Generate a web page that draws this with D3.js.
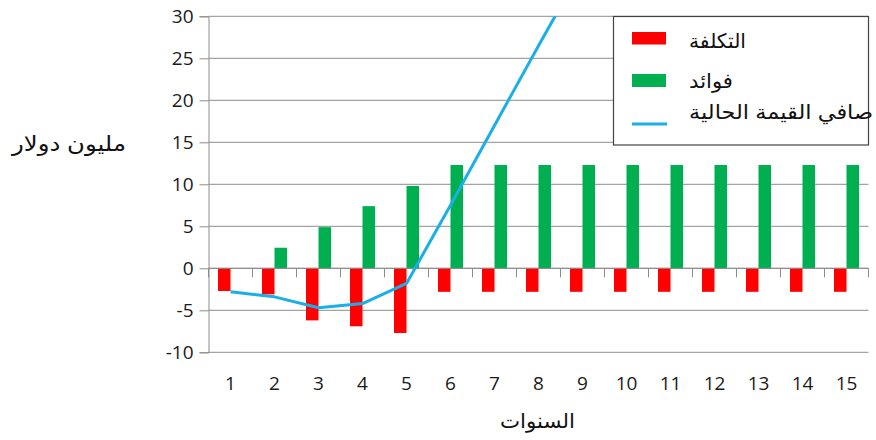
<!DOCTYPE html>
<html>
<head>
<meta charset="utf-8">
<script src="https://cdn.jsdelivr.net/npm/d3@7"></script>
<style>
  html, body { margin: 0; padding: 0; background: #fff; }
  svg { display: block; }
  .ar { font-family: Arial, "DejaVu Sans", sans-serif; }
  .num { font-family: "Open Sans", "Liberation Sans", sans-serif; }
</style>
</head>
<body>
<svg id="chart" width="876" height="440"></svg>
<script>
// Years and yearly cash flows (million dollars)
const years = [1, 2, 3, 4, 5, 6, 7, 8, 9, 10, 11, 12, 13, 14, 15];
const costs = [-2.7, -3.1, -6.2, -6.9, -7.7, -2.8, -2.8, -2.8, -2.8, -2.8, -2.8, -2.8, -2.8, -2.8, -2.8];
const benefits = [0, 2.45, 4.9, 7.4, 9.8, 12.3, 12.3, 12.3, 12.3, 12.3, 12.3, 12.3, 12.3, 12.3, 12.3];
const npv = [-2.8, -3.4, -4.7, -4.2, -1.8, 7.5, 17.0, 26.5, 35.8, 44.6, 53.0, 61.0, 68.8, 76.2, 83.3];
const yTicks = [-10, -5, 0, 5, 10, 15, 20, 25, 30];

const labels = {
  cost: "التكلفة",
  benefit: "فوائد",
  npv: "صافي القيمة الحالية",
  yTitle: "مليون دولار",
  xTitle: "السنوات"
};

const colors = { cost: "#FF0000", benefit: "#00B050", npv: "#1AAFE6", grid: "#8C8C8C" };

const svg = d3.select("#chart");
const plot = { left: 208.5, right: 868.5, top: 16.3, bottom: 352.3 };

const x = d3.scaleBand().domain(years).range([plot.left, plot.right]).padding(0);
const y = d3.scaleLinear().domain([-10, 30]).range([plot.bottom, plot.top]);
const barW = 12.5;

// Horizontal gridlines
svg.append("g")
  .selectAll("line")
  .data(yTicks)
  .join("line")
  .attr("x1", plot.left).attr("x2", plot.right)
  .attr("y1", d => y(d)).attr("y2", d => y(d))
  .attr("stroke", colors.grid).attr("stroke-width", 1);

// Y axis (plain hyphen for negatives)
const yAxis = svg.append("g")
  .attr("transform", `translate(${plot.left},0)`)
  .call(d3.axisLeft(y).tickValues(yTicks).tickSize(9).tickPadding(6).tickFormat(d => String(d)));
yAxis.select(".domain").attr("stroke", colors.grid);
yAxis.selectAll(".tick line").attr("stroke", colors.grid);
yAxis.selectAll("text")
  .attr("class", "num")
  .attr("font-size", 19).attr("fill", "#1a1a1a");

// Bars: costs (left half of band) and benefits (right half)
const center = d => x(d) + x.bandwidth() / 2;
svg.append("g").selectAll("rect")
  .data(years.map((yr, i) => ({ yr, v: costs[i] })))
  .join("rect")
  .attr("x", d => center(d.yr) - barW)
  .attr("width", barW)
  .attr("y", d => y(Math.max(0, d.v)))
  .attr("height", d => Math.abs(y(d.v) - y(0)))
  .attr("fill", colors.cost);

svg.append("g").selectAll("rect")
  .data(years.map((yr, i) => ({ yr, v: benefits[i] })))
  .join("rect")
  .attr("x", d => center(d.yr))
  .attr("width", barW)
  .attr("y", d => y(Math.max(0, d.v)))
  .attr("height", d => Math.abs(y(d.v) - y(0)))
  .attr("fill", colors.benefit);

// X axis along zero with boundary ticks
const boundaries = d3.range(years.length + 1).map(i => plot.left + i * x.bandwidth());
svg.append("line")
  .attr("x1", plot.left).attr("x2", plot.right)
  .attr("y1", y(0)).attr("y2", y(0))
  .attr("stroke", colors.grid);
svg.append("g").selectAll("line")
  .data(boundaries)
  .join("line")
  .attr("x1", d => d).attr("x2", d => d)
  .attr("y1", y(0)).attr("y2", y(0) + 9)
  .attr("stroke", colors.grid);

// Category labels below the plot
svg.append("g").selectAll("text")
  .data(years)
  .join("text")
  .attr("class", "num")
  .attr("x", d => center(d))
  .attr("y", 390)
  .attr("text-anchor", "middle")
  .attr("font-size", 19).attr("fill", "#1a1a1a")
  .text(d => d);

// NPV line, clipped to the plot area
svg.append("clipPath").attr("id", "plotClip")
  .append("rect")
  .attr("x", plot.left).attr("y", plot.top)
  .attr("width", plot.right - plot.left).attr("height", plot.bottom - plot.top);

const line = d3.line().x((d, i) => center(years[i])).y(d => y(d));
svg.append("path")
  .datum(npv)
  .attr("clip-path", "url(#plotClip)")
  .attr("fill", "none")
  .attr("stroke", colors.npv)
  .attr("stroke-width", 3)
  .attr("stroke-linejoin", "round")
  .attr("d", line);

// Legend
const lg = svg.append("g");
lg.append("rect")
  .attr("x", 613.5).attr("y", 16.5).attr("width", 255).attr("height", 128.5)
  .attr("fill", "#fff").attr("stroke", "#444").attr("stroke-width", 1.2);
lg.append("rect").attr("x", 632).attr("y", 32).attr("width", 34).attr("height", 12.5).attr("fill", colors.cost);
lg.append("rect").attr("x", 632).attr("y", 74).attr("width", 34).attr("height", 13).attr("fill", colors.benefit);
lg.append("line").attr("x1", 632).attr("x2", 667).attr("y1", 124).attr("y2", 124)
  .attr("stroke", colors.npv).attr("stroke-width", 3);

const legendText = [
  { t: labels.cost, y: 48, w: 57 },
  { t: labels.benefit, y: 88, w: 44 },
  { t: labels.npv, y: 119, w: 184 }
];
lg.selectAll("text.lt")
  .data(legendText)
  .join("text")
  .attr("class", "ar lt")
  .attr("x", 689).attr("y", d => d.y)
  .attr("font-size", 20).attr("fill", "#111")
  .attr("textLength", d => d.w)
  .attr("lengthAdjust", "spacingAndGlyphs")
  .text(d => d.t);

// Axis titles
svg.append("text")
  .attr("class", "ar")
  .attr("x", 12).attr("y", 151)
  .attr("font-size", 21).attr("fill", "#111")
  .attr("textLength", 114)
  .attr("lengthAdjust", "spacingAndGlyphs")
  .text(labels.yTitle);

svg.append("text")
  .attr("class", "ar")
  .attr("x", 500).attr("y", 428)
  .attr("font-size", 20).attr("fill", "#111")
  .attr("textLength", 75)
  .attr("lengthAdjust", "spacingAndGlyphs")
  .text(labels.xTitle);
</script>
</body>
</html>
